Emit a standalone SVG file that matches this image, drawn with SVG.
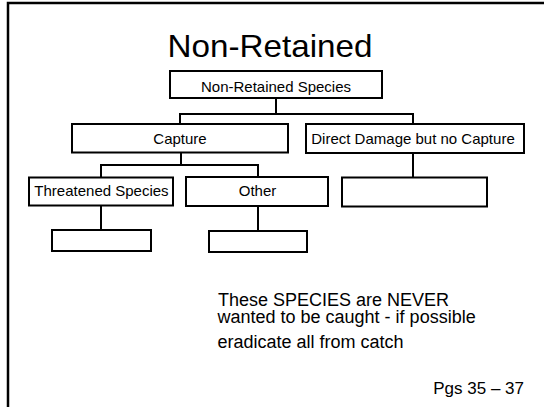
<svg xmlns="http://www.w3.org/2000/svg" width="544" height="407" viewBox="0 0 544 407">
<style>
.box{fill:#fff;stroke:#000;stroke-width:2}
.conn line{stroke:#000;stroke-width:2;stroke-linecap:square}
.frame{stroke:#000;stroke-width:2.5;fill:none}
text{font-family:"Liberation Sans",Arial,sans-serif;fill:#000}
.lbl{font-size:15px;text-anchor:middle}
.body{font-size:18px}
</style>
<rect width="544" height="407" fill="#fff"/>
<path class="frame" d="M8,407 V3 H544"/>
<text x="270" y="57" font-size="32" text-anchor="middle" textLength="205" lengthAdjust="spacingAndGlyphs">Non-Retained</text>
<g id="connectors" class="conn">
<line x1="276" y1="98" x2="276" y2="114"/>
<line x1="180" y1="114" x2="413" y2="114"/>
<line x1="180" y1="114" x2="180" y2="124"/>
<line x1="413" y1="114" x2="413" y2="124"/>
<line x1="181" y1="152.5" x2="181" y2="165"/>
<line x1="101" y1="165" x2="258" y2="165"/>
<line x1="101" y1="165" x2="101" y2="177.5"/>
<line x1="258" y1="165" x2="258" y2="177"/>
<line x1="413" y1="153" x2="413" y2="177.5"/>
<line x1="101" y1="205.5" x2="101" y2="230"/>
<line x1="258" y1="206" x2="258" y2="231"/>
</g>
<g id="node-nonretained-species">
<rect class="box" x="170" y="71" width="212" height="27"/>
<text class="lbl" x="276" y="92">Non-Retained Species</text>
</g>
<g id="node-capture">
<rect class="box" x="72" y="124" width="216" height="28.5"/>
<text class="lbl" x="180" y="143.5">Capture</text>
</g>
<g id="node-direct-damage">
<rect class="box" x="306" y="124" width="218" height="29"/>
<text class="lbl" x="413" y="143.5">Direct Damage but no Capture</text>
</g>
<g id="node-threatened">
<rect class="box" x="29" y="177.5" width="144" height="28"/>
<text class="lbl" x="101.5" y="196">Threatened Species</text>
</g>
<g id="node-other">
<rect class="box" x="186" y="177" width="142" height="29"/>
<text class="lbl" x="257.5" y="196">Other</text>
</g>
<g id="node-direct-child">
<rect class="box" x="342" y="177.5" width="145" height="29"/>
</g>
<g id="node-threatened-child">
<rect class="box" x="52" y="230" width="99" height="21"/>
</g>
<g id="node-other-child">
<rect class="box" x="209" y="231" width="98" height="21"/>
</g>
<text class="body" x="218" y="306">These SPECIES are NEVER</text>
<text class="body" x="217.5" y="322.5">wanted to be caught - if possible</text>
<text class="body" x="217.5" y="347.5">eradicate all from catch</text>
<text x="524" y="394" font-size="17" text-anchor="end">Pgs 35 – 37</text>
</svg>
